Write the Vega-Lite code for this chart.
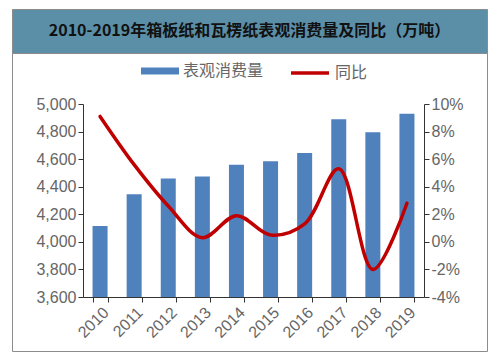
{
  "$schema": "https://vega.github.io/schema/vega-lite/v6.json",
  "padding": {"left": 11, "top": 8, "right": 0, "bottom": 0},
  "background": "white",
  "spacing": 0,
  "bounds": "flush",
  "config": {
    "view": {"stroke": "#8c8c8c"},
    "axis": {"labelFont": "Liberation Sans", "labelFontSize": 16, "labelColor": "#666666", "domainColor": "#333333", "tickColor": "#333333", "tickSize": 5, "grid": false, "title": null},
    "legend": {"labelFont": "Noto Sans CJK SC", "labelFontSize": 16, "labelColor": "#666666", "title": null}
  },
  "vconcat": [
    {
      "width": 475,
      "height": 44,
      "view": {"fill": "#5B8FA8", "stroke": "#8c8c8c"},
      "data": {"values": [{"t": "2010-2019年箱板纸和瓦楞纸表观消费量及同比（万吨）"}]},
      "mark": {"type": "text", "font": "Noto Sans CJK SC", "fontWeight": "bold", "fontSize": 16, "color": "#111111"},
      "encoding": {"text": {"field": "t"}}
    },
    {
      "width": 475,
      "height": 298,
      "view": {"stroke": "#8c8c8c"},
      "data": {"values": [
        {"year": "2010", "v": 4115, "p": 9.1},
        {"year": "2011", "v": 4345, "p": 5.6},
        {"year": "2012", "v": 4460, "p": 2.6},
        {"year": "2013", "v": 4475, "p": 0.3},
        {"year": "2014", "v": 4560, "p": 1.9},
        {"year": "2015", "v": 4585, "p": 0.5},
        {"year": "2016", "v": 4645, "p": 1.3},
        {"year": "2017", "v": 4890, "p": 5.3},
        {"year": "2018", "v": 4795, "p": -2.0},
        {"year": "2019", "v": 4930, "p": 2.8}
      ]},
      "encoding": {
        "x": {
          "field": "year", "type": "nominal",
          "scale": {"range": [71, 412], "paddingInner": 0.56, "paddingOuter": 0.28},
          "axis": {"orient": "bottom", "offset": -54, "labelAngle": -45, "tickBand": "extent", "labelPadding": 2}
        }
      },
      "layer": [
        {
          "mark": {"type": "bar", "fill": "#4F81BD"},
          "encoding": {
            "y": {
              "field": "v", "type": "quantitative",
              "scale": {"domain": [3600, 5000], "range": [244, 51], "zero": false, "nice": false},
              "axis": {"orient": "left", "offset": -71, "values": [3600, 3800, 4000, 4200, 4400, 4600, 4800, 5000], "format": ",.0f"}
            },
            "y2": {"datum": 3600},
            "color": {
              "datum": "表观消费量",
              "scale": {"range": ["#4F81BD"]},
              "legend": {"orient": "none", "legendX": 129, "legendY": 43, "symbolType": "M-1,-0.18H1V0.18H-1Z", "symbolSize": 1444, "symbolStrokeWidth": 0, "labelOffset": 4}
            }
          }
        },
        {
          "mark": {"type": "line", "strokeWidth": 3.5, "interpolate": "catmull-rom", "strokeCap": "round"},
          "encoding": {
            "y": {
              "field": "p", "type": "quantitative",
              "scale": {"domain": [-4, 10], "range": [244, 51], "zero": false, "nice": false},
              "axis": {"orient": "right", "offset": -63, "values": [-4, -2, 0, 2, 4, 6, 8, 10], "labelExpr": "datum.value + '%'"}
            },
            "stroke": {
              "datum": "同比",
              "scale": {"range": ["#C00000"]},
              "legend": {"orient": "none", "legendX": 277, "legendY": 43, "symbolType": "stroke", "symbolSize": 1444, "symbolStrokeWidth": 3.5, "labelOffset": 4}
            }
          }
        }
      ],
      "resolve": {"scale": {"y": "independent"}}
    }
  ]
}
